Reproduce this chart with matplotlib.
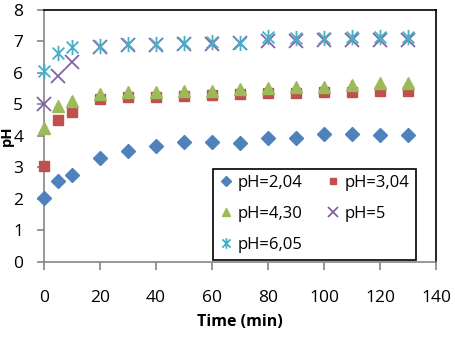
import matplotlib
matplotlib.use("Agg")
import matplotlib.pyplot as plt
from matplotlib.path import Path

# time (min)
time = [0, 5, 10, 20, 30, 40, 50, 60, 70, 80, 90, 100, 110, 120, 130]

ph_204 = [2.03, 2.57, 2.75, 3.31, 3.52, 3.69, 3.80, 3.80, 3.79, 3.93, 3.93, 4.05, 4.05, 4.03, 4.03]
ph_304 = [3.06, 4.51, 4.75, 5.17, 5.23, 5.25, 5.28, 5.30, 5.33, 5.37, 5.35, 5.40, 5.40, 5.44, 5.44]
ph_430 = [4.26, 4.95, 5.12, 5.32, 5.39, 5.40, 5.44, 5.44, 5.49, 5.53, 5.54, 5.56, 5.62, 5.69, 5.69]
ph_5 = [5.02, 5.91, 6.35, 6.83, 6.89, 6.89, 6.92, 6.92, 6.94, 7.03, 7.03, 7.04, 7.05, 7.05, 7.06]
ph_605 = [6.07, 6.62, 6.83, 6.87, 6.92, 6.92, 6.95, 6.97, 6.96, 7.15, 7.10, 7.10, 7.15, 7.13, 7.13]

labels = ["pH=2,04", "pH=3,04", "pH=4,30", "pH=5", "pH=6,05"]

plt.rcParams['font.family'] = ['Open Sans', 'DejaVu Sans']

# excel style asterisk: X with a vertical bar
star = Path([(-1, -1), (1, 1), (-1, 1), (1, -1), (0, -1.3), (0, 1.3)],
            [Path.MOVETO, Path.LINETO, Path.MOVETO, Path.LINETO, Path.MOVETO, Path.LINETO])

fig = plt.figure(figsize=(4.56, 3.44), dpi=100)
ax = fig.add_axes([0.0965, 0.2384, 0.8595, 0.7326])

kw = dict(ls='none', clip_on=False, zorder=3)
h1, = ax.plot(time, ph_204, marker='D', ms=7, color='#4F81BD', **kw)
h2, = ax.plot(time, ph_304, marker='s', ms=7, color='#C0504D', **kw)
h3, = ax.plot(time, ph_430, marker='^', ms=8.5, color='#9BBB59', **kw)
h4, = ax.plot(time, ph_5, marker='x', ms=10, mew=1.3, color='#8064A2', **kw)
h5, = ax.plot(time, ph_605, marker=star, ms=11, mew=1.3, color='#4BACC6', **kw)

ax.set_xlim(0, 140)
ax.set_ylim(0, 8)
ax.set_xticks(range(0, 141, 20))
ax.set_yticks(range(0, 9))

for s in ['left', 'bottom']:
    ax.spines[s].set_color('#868686')
    ax.spines[s].set_linewidth(1.2)
for s in ['top', 'right']:
    ax.spines[s].set_color('black')
    ax.spines[s].set_linewidth(1.2)

ax.tick_params(axis='x', length=6, width=1.2, color='#868686', labelsize=12.5, pad=14)
ax.tick_params(axis='y', length=5, width=1.2, color='#868686', labelsize=12.5, pad=10)

ax.set_xlabel('Time (min)', fontsize=11.5, fontweight='bold', labelpad=6)
ax.set_ylabel('pH', fontsize=10.5, fontweight='bold')
ax.yaxis.set_label_coords(-0.077, 0.5)

handles = [h1, h3, h5, h2, h4]
leg_labels = [labels[0], labels[2], labels[4], labels[1], labels[3]]
leg = ax.legend(handles, leg_labels, ncol=2, loc='lower left', bbox_to_anchor=(0.431, 0.008),
                borderaxespad=0, fancybox=False, framealpha=1, edgecolor='black',
                fontsize=12, markerscale=0.7, handlelength=0.8, handletextpad=0.3,
                columnspacing=1.4, labelspacing=0.9, borderpad=0.4)
leg.get_frame().set_linewidth(1.2)

fig.savefig('out.png', dpi=100)
